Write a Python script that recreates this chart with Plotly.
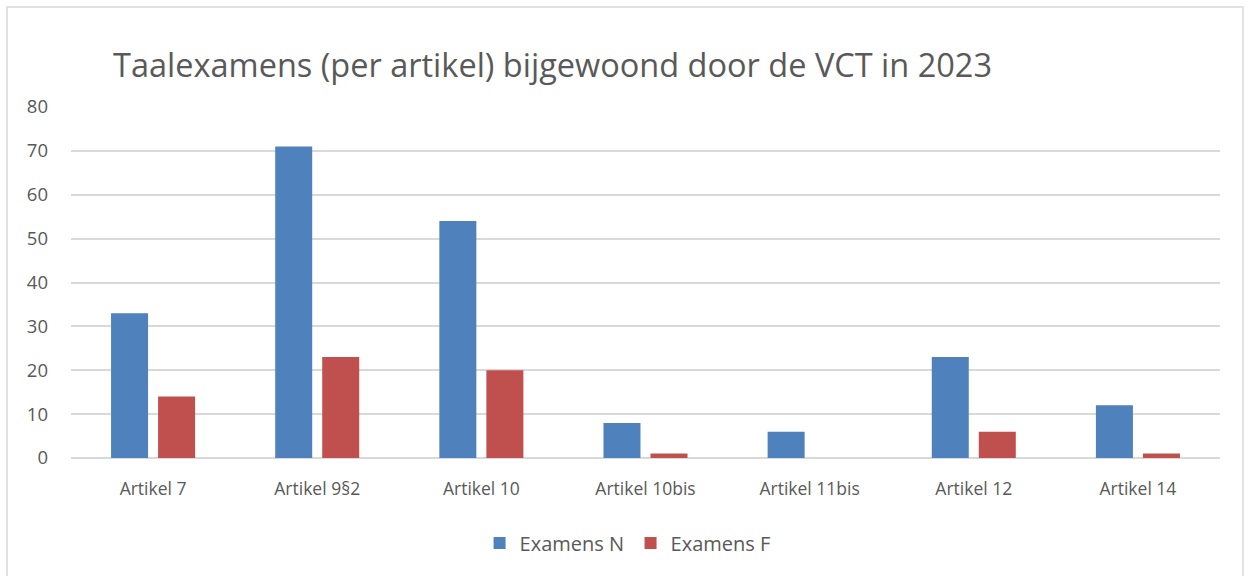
import plotly.graph_objects as go

categories = ["Artikel 7", "Artikel 9§2", "Artikel 10", "Artikel 10bis", "Artikel 11bis", "Artikel 12", "Artikel 14"]
examens_n = [33, 71, 54, 8, 6, 23, 12]
examens_f = [14, 23, 20, 1, 0, 6, 1]
y_ticks = [0, 10, 20, 30, 40, 50, 60, 70, 80]

FONT = "Open Sans"
TXT = "#595959"

fig = go.Figure()
fig.add_trace(go.Bar(name="Examens N", x=categories, y=examens_n, marker=dict(color="#4f81bd", line=dict(width=0))))
fig.add_trace(go.Bar(name="Examens F", x=categories, y=examens_f, marker=dict(color="#c0504d", line=dict(width=0))))

fig.update_layout(
    width=1248, height=576,
    margin=dict(l=71, r=28, t=107, b=118),
    paper_bgcolor="white", plot_bgcolor="white",
    barmode="group", bargap=0.427, bargroupgap=0.213,
    font=dict(family=FONT, color=TXT, size=17),
    title=dict(text="Taalexamens (per artikel) bijgewoond door de VCT in 2023",
               x=113/1248, xanchor="left", y=1-66/576, yanchor="middle",
               font=dict(family=FONT, size=32.5, color=TXT)),
    legend=dict(orientation="h", x=0.487, xanchor="center", y=-0.242, yanchor="middle",
                font=dict(family=FONT, size=20, color=TXT),
                entrywidth=106, entrywidthmode="pixels",
                traceorder="normal"),
    showlegend=True,
)
fig.update_yaxes(range=[0, 80], tickvals=y_ticks, showgrid=True, gridcolor="#d9d9d9", gridwidth=1.5,
                 zeroline=True, zerolinecolor="#d9d9d9", zerolinewidth=1.5, showline=False,
                 ticks="", ticklabelstandoff=22, tickfont=dict(size=18.5, color=TXT))
fig.update_xaxes(showgrid=False, showline=False, ticks="", ticklabelstandoff=18,
                 tickfont=dict(size=17.5, color=TXT))

fig.add_shape(type="rect", xref="paper", yref="paper",
              x0=(7-71)/1149, x1=(1243-71)/1149, y0=(458-585)/351, y1=(458-7)/351,
              line=dict(color="#d9d9d9", width=1.5), fillcolor="rgba(0,0,0,0)", layer="below")

fig.write_html("out.html", config={"displayModeBar": False},
               post_script="document.body.style.margin='0';document.body.style.overflow='hidden';")
